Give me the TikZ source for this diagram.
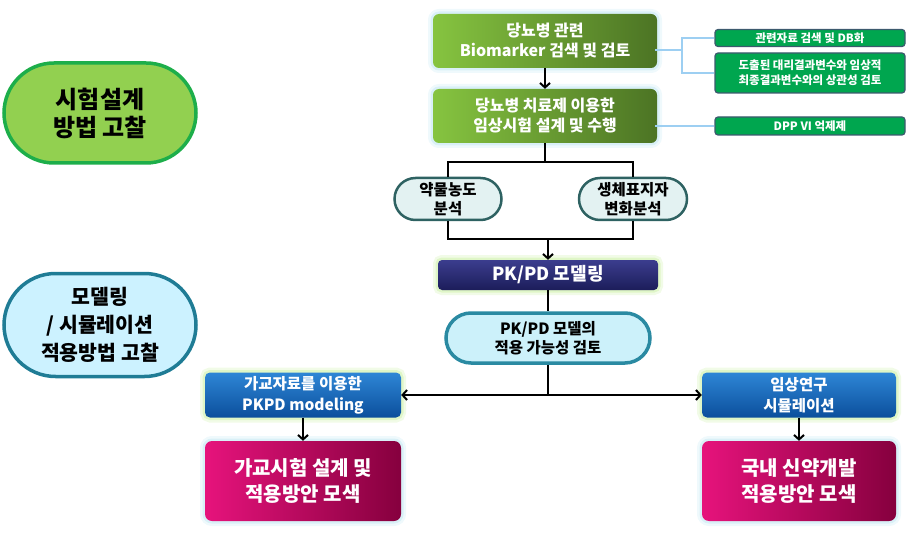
\documentclass[tikz,border=0pt]{standalone}
\usepackage{fontspec}
\setmainfont{Noto Sans CJK KR}
\usetikzlibrary{arrows.meta,shapes.misc}
\definecolor{gA}{HTML}{86C440}
\definecolor{gB}{HTML}{4C7424}
\definecolor{sgreen}{HTML}{00A64F}
\definecolor{sborder}{HTML}{3C5A6E}
\definecolor{navyT}{HTML}{3B3D8E}
\definecolor{navyB}{HTML}{1C1D5A}
\definecolor{blueT}{HTML}{2E86D6}
\definecolor{blueB}{HTML}{0B4F9C}
\definecolor{magL}{HTML}{E6137C}
\definecolor{magR}{HTML}{86003E}
\definecolor{pillF}{HTML}{E3F2F2}
\definecolor{pillD}{HTML}{2E6262}
\definecolor{mF}{HTML}{CCF1FA}
\definecolor{mD}{HTML}{2A8AA2}
\definecolor{g1F}{HTML}{92D050}
\definecolor{g1D}{HTML}{1DAE4A}
\definecolor{g2F}{HTML}{CCF2FF}
\definecolor{g2D}{HTML}{1F7C95}
\definecolor{lblue}{HTML}{9DCFF2}
\definecolor{glowG}{HTML}{C9EFA0}
\definecolor{glowB}{HTML}{BFE6F2}
\tikzset{
  glow/.style={preaction={draw=#1,line width=10pt,opacity=0.25},
               preaction={draw=#1,line width=5pt,opacity=0.45}},
  greenbox/.style={rectangle,rounded corners=6pt,left color=gA,right color=gB,
    minimum width=224pt,minimum height=54pt,text=white,align=center,inner sep=1pt,
    font=\fontsize{16}{20}\selectfont\bfseries,glow=glowB},
  smallbox/.style={rectangle,rounded corners=3pt,fill=sgreen,draw=sborder,line width=1.2pt,
    minimum width=190pt,text=white,align=center,inner sep=1pt,
    font=\fontsize{11.5}{15}\selectfont\bfseries},
  pillbox/.style={rounded rectangle,fill=pillF,draw=pillD,line width=2.5pt,
    minimum width=109pt,minimum height=42pt,align=center,inner sep=1pt,
    font=\fontsize{15.5}{19}\selectfont\bfseries},
  navybox/.style={rectangle,rounded corners=4pt,top color=navyT,bottom color=navyB,
    minimum width=220pt,minimum height=30pt,text=white,inner sep=1pt,
    font=\fontsize{18}{20}\selectfont\bfseries,glow=glowG},
  mpill/.style={rounded rectangle,fill=mF,draw=mD,line width=3.5pt,
    minimum width=206pt,minimum height=50pt,align=center,inner sep=1pt,
    font=\fontsize{15.5}{19}\selectfont\bfseries},
  bluebox/.style={rectangle,rounded corners=5pt,top color=blueT,bottom color=blueB,
    minimum width=196pt,minimum height=45pt,text=white,align=center,inner sep=1pt,
    font=\fontsize{15.5}{21}\selectfont\bfseries,glow=glowG},
  magbox/.style={rectangle,rounded corners=7pt,left color=magL,right color=magR,
    minimum width=196pt,minimum height=80pt,text=white,align=center,
    font=\fontsize{20}{26}\selectfont\bfseries,glow=glowB},
  sidepill/.style={rounded rectangle,line width=3.5pt,minimum width=194pt,align=center,inner sep=1pt},
  conn/.style={line width=1.8pt,black},
  arr/.style={conn,-{Straight Barb[length=4.5pt,width=10pt,line width=2pt]}},
  bline/.style={draw=lblue,line width=2.5pt}
}
\begin{document}
\begin{tikzpicture}[x=1pt,y=-1pt]
\useasboundingbox (0,0) rectangle (921,548);
% left pills
\node[sidepill,fill=g1F,draw=g1D,minimum height=100pt,font=\fontsize{24}{28}\selectfont\bfseries] (G1) at (100,113) {시험설계\\방법 고찰};
\node[sidepill,fill=g2F,draw=g2D,minimum height=103pt,font=\fontsize{20.5}{28}\selectfont\bfseries] (G2) at (100,325) {모델링\\/ 시뮬레이션\\적용방법 고찰};
% main column
\node[greenbox] (A) at (545,41) {당뇨병 관련\\Biomarker 검색 및 검토};
\node[greenbox] (B) at (545,116) {당뇨병 치료제 이용한\\임상시험 설계 및 수행};
\node[smallbox,minimum height=17pt] (S1) at (810,38) {관련자료 검색 및 DB화};
\node[smallbox,minimum height=40pt] (S2) at (810,73) {도출된 대리결과변수와 임상적\\최종결과변수와의 상관성 검토};
\node[smallbox,minimum height=18pt] (S3) at (810,126) {DPP VI 억제제};
\node[pillbox] (P1) at (448,199) {약물농도\\분석};
\node[pillbox,minimum width=110pt] (P2) at (633,199) {생체표지자\\변화분석};
\node[navybox] (K) at (548,275) {PK/PD 모델링};
\node[mpill] (M) at (548,338) {PK/PD 모델의\\적용 가능성 검토};
\node[bluebox] (L1) at (303,395) {가교자료를 이용한\\PKPD modeling};
\node[magbox] (L2) at (303,481) {가교시험 설계 및\\적용방안 모색};
\node[bluebox,minimum width=194pt] (R1) at (799,395) {임상연구\\시뮬레이션};
\node[magbox,minimum width=194pt] (R2) at (799,481) {국내 신약개발\\적용방안 모색};
% light blue connectors
\coordinate (br) at (682,50);
\coordinate (aj) at (655,50);
\draw[bline] (aj) -- (br);
\draw[bline] (S1.west) -- (S1.west -| br) -- (S2.west -| br) -- (S2.west);
\coordinate (bj) at (655,126);
\draw[bline] (bj) -- (S3.west);
% black connectors
\draw[arr] (A.south) -- (B.north);
\coordinate (t) at (545,162);
\draw[conn] (B.south) -- (t);
\draw[conn] (P1.north) -- (P1.north |- t) -- (P2.north |- t) -- (P2.north);
\coordinate (bt) at (548,239);
\draw[conn] (P1.south) -- (P1.south |- bt) -- (P2.south |- bt) -- (P2.south);
\draw[arr] (bt) -- (K.north);
\draw[conn] (K.south) -- (M.north);
\coordinate (hj) at (548,395);
\draw[conn] (M.south) -- (hj);
\draw[arr] (hj) -- (L1.east);
\draw[arr] (hj) -- (R1.west);
\draw[arr] (L1.south) -- (L2.north);
\draw[arr] (R1.south) -- (R2.north);
\end{tikzpicture}
\end{document}
